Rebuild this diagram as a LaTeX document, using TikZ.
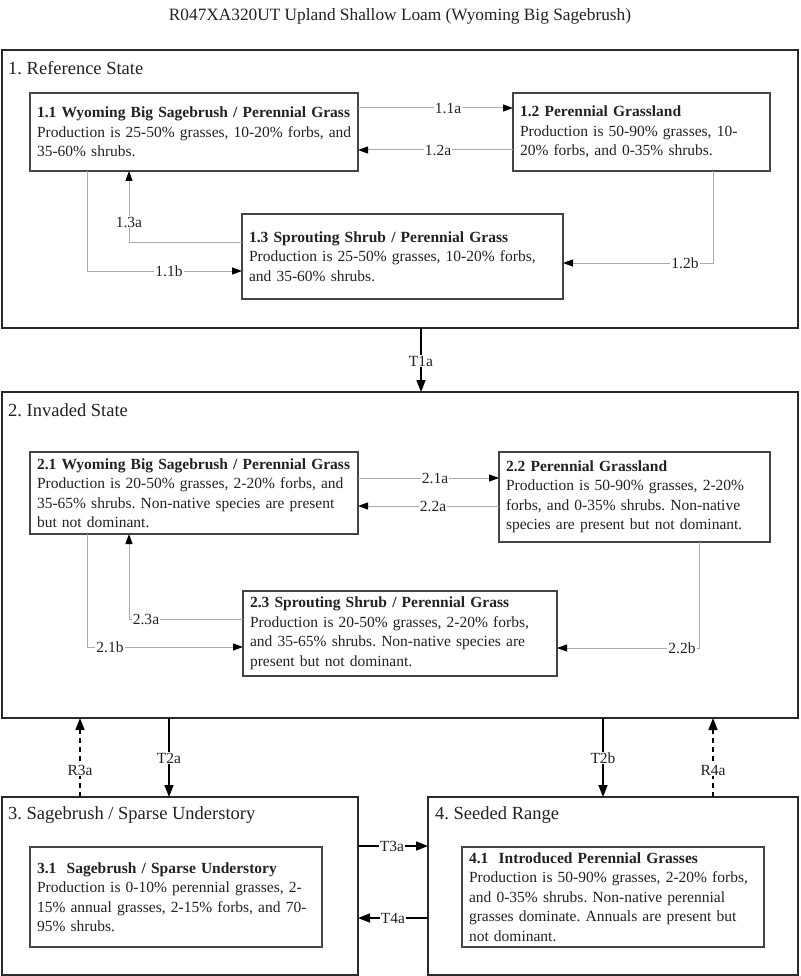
\documentclass[tikz,border=0pt]{standalone}
\usepackage{fontspec}
\setmainfont{Liberation Serif}
\usetikzlibrary{arrows.meta}
\definecolor{txt}{HTML}{222222}
\definecolor{sbord}{HTML}{2A2A2A}
\definecolor{ibord}{HTML}{444444}
\definecolor{conn}{HTML}{AAAAAA}
\newcommand{\oneline}[1]{\mbox{#1}}
\frenchspacing
\begin{document}
\begin{tikzpicture}[x=1pt,y=-1pt,
  every node/.style={text=txt},
  statebox/.style={draw=sbord,line width=1.8pt,anchor=north west,inner sep=0pt,outer sep=0pt},
  comm/.style={draw=ibord,line width=1.2pt,anchor=north west,inner xsep=7pt,inner ysep=0pt,outer sep=0pt,
    align=left,font=\fontsize{15.5}{19.5}\selectfont\frenchspacing},
  stlabel/.style={anchor=west,inner sep=0pt,font=\fontsize{18.5}{22}\selectfont},
  lbl/.style={fill=white,inner sep=1pt,font=\fontsize{15.5}{18}\selectfont},
  inconn/.style={draw=conn,line width=1pt,-{Triangle[length=10pt,width=7pt,color=black]}},
  outconn/.style={draw=black,line width=1.6pt,-{Triangle[length=12pt,width=9pt,color=black]}},
  restconn/.style={outconn,dash pattern=on 5pt off 4pt}
]
\useasboundingbox (0,0) rectangle (800,976);
\fill[white] (0,0) rectangle (800,976);

\node[font=\fontsize{17.3}{20}\selectfont] (title) at (400,16) {R047XA320UT Upland Shallow Loam (Wyoming Big Sagebrush)};

% states
\node[statebox,minimum width=796pt,minimum height=278pt] (s1) at (2,50) {};
\node[statebox,minimum width=796pt,minimum height=326pt] (s2) at (2,392) {};
\node[statebox,minimum width=356pt,minimum height=178pt] (s3) at (2,797) {};
\node[statebox,minimum width=370pt,minimum height=178pt] (s4) at (428,797) {};

\node[stlabel] (s1l) at (8,68) {1. Reference State};
\node[stlabel] (s2l) at (8,410) {2. Invaded State};
\node[stlabel] (s3l) at (8,815) {3. Sagebrush / Sparse Understory};
\node[stlabel] (s4l) at (435,815) {4. Seeded Range};

% community boxes
\node[comm,text width=314pt,minimum height=78pt] (b11) at (30,93)
 {\oneline{\textbf{1.1 Wyoming Big Sagebrush / Perennial Grass}}\\\oneline{Production is 25-50\% grasses, 10-20\% forbs, and}\\\oneline{35-60\% shrubs.}};
\node[comm,text width=243pt,minimum height=78pt] (b12) at (513,93)
 {\oneline{\textbf{1.2 Perennial Grassland}}\\\oneline{Production is 50-90\% grasses, 10-}\\\oneline{20\% forbs, and 0-35\% shrubs.}};
\node[comm,text width=307pt,minimum height=85pt] (b13) at (242,214)
 {\oneline{\textbf{1.3 Sprouting Shrub / Perennial Grass}}\\\oneline{Production is 25-50\% grasses, 10-20\% forbs,}\\\oneline{and 35-60\% shrubs.}};

\node[comm,text width=314pt,minimum height=82pt] (b21) at (30,452)
 {\oneline{\textbf{2.1 Wyoming Big Sagebrush / Perennial Grass}}\\\oneline{Production is 20-50\% grasses, 2-20\% forbs, and}\\\oneline{35-65\% shrubs. Non-native species are present}\\\oneline{but not dominant.}};
\node[comm,text width=257pt,minimum height=90pt] (b22) at (499,452)
 {\oneline{\textbf{2.2 Perennial Grassland}}\\\oneline{Production is 50-90\% grasses, 2-20\%}\\\oneline{forbs, and 0-35\% shrubs. Non-native}\\\oneline{species are present but not dominant.}};
\node[comm,text width=300pt,minimum height=85pt] (b23) at (243,591)
 {\oneline{\textbf{2.3 Sprouting Shrub / Perennial Grass}}\\\oneline{Production is 20-50\% grasses, 2-20\% forbs,}\\\oneline{and 35-65\% shrubs. Non-native species are}\\\oneline{present but not dominant.}};

\node[comm,text width=278pt,minimum height=100pt] (b31) at (30,847)
 {\oneline{\textbf{3.1\ \ Sagebrush / Sparse Understory}}\\\oneline{Production is 0-10\% perennial grasses, 2-}\\\oneline{15\% annual grasses, 2-15\% forbs, and 70-}\\\oneline{95\% shrubs.}};
\node[comm,text width=288pt,minimum height=100pt] (b41) at (462,847)
 {\oneline{\textbf{4.1\ \ Introduced Perennial Grasses}}\\\oneline{Production is 50-90\% grasses, 2-20\% forbs,}\\\oneline{and 0-35\% shrubs. Non-native perennial}\\\oneline{grasses dominate. Annuals are present but}\\\oneline{not dominant.}};

% state 1 connectors
\draw[inconn] (b11.east |- 0,108) -- (b12.west |- 0,108);
\node[lbl] (l11a) at (448,108) {1.1a};
\draw[inconn] (b12.west |- 0,150) -- (b11.east |- 0,150);
\node[lbl] (l12a) at (438,150) {1.2a};
\draw[inconn] (b13.west |- 0,242) -| (b11.south -| 129,0);
\node[lbl] (l13a) at (129,222) {1.3a};
\draw[inconn] (b11.south -| 87,0) |- (b13.west |- 0,271);
\node[lbl] (l11b) at (169,271) {1.1b};
\draw[inconn] (b12.south -| 713,0) |- (b13.east |- 0,263);
\node[lbl] (l12b) at (685,263) {1.2b};

% state 2 connectors
\draw[inconn] (b21.east |- 0,478) -- (b22.west |- 0,478);
\node[lbl] (l21a) at (435,478) {2.1a};
\draw[inconn] (b22.west |- 0,506) -- (b21.east |- 0,506);
\node[lbl] (l22a) at (433,506) {2.2a};
\draw[inconn] (b23.west |- 0,619) -| (b21.south -| 129,0);
\node[lbl] (l23a) at (146,619) {2.3a};
\draw[inconn] (b21.south -| 87,0) |- (b23.west |- 0,647);
\node[lbl] (l21b) at (110,647) {2.1b};
\draw[inconn] (b22.south -| 699,0) |- (b23.east |- 0,648);
\node[lbl] (l22b) at (682,648) {2.2b};

% between states
\draw[outconn] (s1.south -| 421,0) -- (s2.north -| 421,0);
\node[lbl] (lT1a) at (421,361) {T1a};
\draw[outconn] (s2.south -| 169,0) -- (s3.north -| 169,0);
\node[lbl] (lT2a) at (169,758) {T2a};
\draw[restconn] (s3.north -| 80,0) -- (s2.south -| 80,0);
\node[lbl] (lR3a) at (80,770) {R3a};
\draw[outconn] (s2.south -| 603,0) -- (s4.north -| 603,0);
\node[lbl] (lT2b) at (603,758) {T2b};
\draw[restconn] (s4.north -| 713,0) -- (s2.south -| 713,0);
\node[lbl] (lR4a) at (713,770) {R4a};
\draw[outconn] (s3.east |- 0,846) -- (s4.west |- 0,846);
\node[lbl] (lT3a) at (392,846) {T3a};
\draw[outconn] (s4.west |- 0,918) -- (s3.east |- 0,918);
\node[lbl] (lT4a) at (393,918) {T4a};
\end{tikzpicture}
\end{document}
